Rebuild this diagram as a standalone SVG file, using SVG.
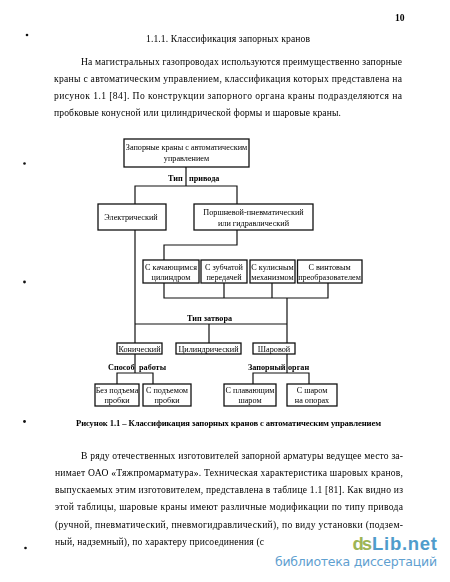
<svg xmlns="http://www.w3.org/2000/svg" width="450" height="582" viewBox="0 0 450 582">
<style>
text{font-family:"Liberation Serif","Times New Roman",serif;fill:#000;font-size:9.6px}
.b{font-weight:bold;fill:#000}
.n rect{fill:#fff;stroke:#111;stroke-width:1.3}
.n text{text-anchor:middle;font-size:8.2px}
#connectors path{fill:none;stroke:#111;stroke-width:1.2}
.l{font-size:8.2px;font-weight:bold;fill:#000}
.w{font-family:"DejaVu Sans","Open Sans",sans-serif}
.m{font-family:"Liberation Sans",Arial,sans-serif;font-size:18.5px;font-weight:bold}
</style>
<defs><filter id="soft" x="0" y="0" width="1" height="1" color-interpolation-filters="sRGB"><feGaussianBlur stdDeviation="0.3"/></filter></defs>
<rect width="450" height="582" fill="#fff"/>
<g filter="url(#soft)">
<g fill="#111"><circle cx="27" cy="35" r="1.3"/><circle cx="24.5" cy="163.500" r="1.3"/><circle cx="24.500" cy="282" r="1.4"/><circle cx="24.500" cy="421.500" r="1.4"/><circle cx="25.500" cy="548" r="1.300"/></g>
<text x="395" y="21" class="b">10</text>
<text x="146" y="42" textLength="164">1.1.1. Классификация запорных кранов</text>
<text x="81" y="65" textLength="321">На магистральных газопроводах используются преимущественно запорные</text>
<text x="54" y="82" textLength="348">краны с автоматическим управлением, классификация которых представлена на</text>
<text x="54" y="99" textLength="348">рисунок 1.1 [84]. По конструкции запорного органа краны подразделяются на</text>
<text x="54" y="116" textLength="287">пробковые конусной или цилиндрической формы и шаровые краны.</text>

<g id="connectors">
<path d="M186 167V186M135 204V186H237V204"/>
<path d="M237 230V245H164V260"/>
<path d="M164 283V298H328V283M224 283V298M272 283V298"/>
<path d="M287 298V343M135 230V343M135 324H287M209 324V343"/>
<path d="M135 354V373M117 384V373H153V384"/>
<path d="M287 354V373M253 384V373H309V384"/>
</g>

<g id="n-root" class="n"><rect x="124" y="139" width="125" height="28"/><text x="186.500" y="150">Запорные краны с автоматическим</text><text x="186.500" y="161">управлением</text></g>
<g id="n-electric" class="n"><rect x="98" y="204" width="68" height="26"/><text x="131" y="220">Электрический</text></g>
<g id="n-piston" class="n"><rect x="194" y="204" width="119" height="26"/><text x="253.500" y="215">Поршневой-пневматический</text><text x="253.500" y="226">или гидравлический</text></g>
<g id="n-swing" class="n"><rect x="143" y="260" width="56" height="23"/><text x="171" y="269.500">С качающимся</text><text x="171" y="279.500">цилиндром</text></g>
<g id="n-gear" class="n"><rect x="201" y="260" width="46" height="23"/><text x="224" y="269.500">С зубчатой</text><text x="224" y="279.500">передачей</text></g>
<g id="n-cam" class="n"><rect x="250" y="260" width="45" height="23"/><text x="272.500" y="269.500">С кулисным</text><text x="272.500" y="279.500">механизмом</text></g>
<g id="n-screw" class="n"><rect x="297.500" y="260" width="64.500" height="23"/><text x="329.500" y="269.500">С винтовым</text><text x="329.500" y="279.500">преобразователем</text></g>
<g id="n-cone" class="n"><rect x="117" y="343" width="45" height="11"/><text x="139.500" y="351.500">Конический</text></g>
<g id="n-cyl" class="n"><rect x="176" y="343" width="65" height="11"/><text x="208.500" y="351.500">Цилиндрический</text></g>
<g id="n-ball" class="n"><rect x="253" y="343" width="42" height="11"/><text x="274" y="351.500">Шаровой</text></g>
<g id="n-nolift" class="n"><rect x="95" y="384" width="44" height="22"/><text x="117" y="393">Без подъема</text><text x="117" y="402.500">пробки</text></g>
<g id="n-lift" class="n"><rect x="143" y="384" width="48" height="22"/><text x="167" y="393">С подъемом</text><text x="167" y="402.500">пробки</text></g>
<g id="n-float" class="n"><rect x="224" y="384" width="52" height="22"/><text x="250" y="393">С плавающим</text><text x="250" y="402.500">шаром</text></g>
<g id="n-support" class="n"><rect x="287" y="384" width="50" height="22"/><text x="312" y="393">С шаром</text><text x="312" y="402.500">на опорах</text></g>

<text class="l" x="168" y="181">Тип</text>
<text class="l" x="189" y="181">привода</text>
<text class="l" x="187" y="321">Тип затвора</text>
<text class="l" x="108" y="369.500">Способ</text>
<text class="l" x="139" y="369.500">работы</text>
<text class="l" x="248" y="369.500">Запорный</text>
<text class="l" x="288" y="369.500">орган</text>

<text class="b" x="76" y="426" style="font-size:8.6px" textLength="305">Рисунок 1.1 – Классификация запорных кранов с автоматическим управлением</text>

<text x="81" y="459" textLength="322">В ряду отечественных изготовителей запорной арматуры ведущее место за-</text>
<text x="55" y="476" textLength="348">нимает ОАО «Тяжпромарматура». Техническая характеристика шаровых кранов,</text>
<text x="55" y="493" textLength="348">выпускаемых этим изготовителем, представлена в таблице 1.1 [81]. Как видно из</text>
<text x="55" y="510" textLength="348">этой таблицы, шаровые краны имеют различные модификации по типу привода</text>
<text x="55" y="528" textLength="348">(ручной, пневматический, пневмогидравлический), по виду установки (подзем-</text>
<text x="55" y="545" textLength="209">ный, надземный), по характеру присоединения (с</text>
</g>
<text class="m" x="352.500" y="550" style="fill:#9db555" textLength="19.500">ds</text>
<text class="m" x="372" y="550" style="fill:#4f9ccb" textLength="65">Lib.net</text>
<text class="w" x="275" y="566" style="font-size:12.500px;fill:#5fa0d0" textLength="162">библиотека диссертаций</text>
</svg>
